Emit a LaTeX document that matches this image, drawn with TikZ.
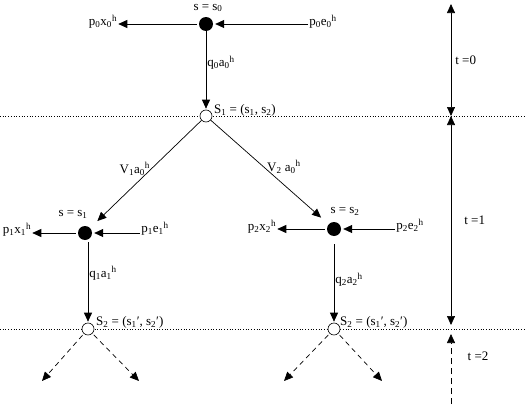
\documentclass[tikz,border=0pt]{standalone}
\usepackage{fontspec}
\setmainfont{Liberation Serif}
\usetikzlibrary{arrows.meta,positioning,calc}

\newcommand{\idx}[1]{\textsubscript{#1}}
\newcommand{\hsup}{\textsuperscript{h}}

\begin{document}
\begin{tikzpicture}[x=1pt,y=-1pt,font=\fontsize{13}{15}\selectfont, line join=round]

% ---------- styles ----------
\tikzset{
  dot/.style={circle, fill=black, inner sep=0pt, minimum size=14pt},
  state/.style={circle, draw, fill=white, inner sep=0pt, minimum size=12pt, line width=0.6pt},
  flow/.style={-{Triangle[length=9pt,width=8pt]}, line width=0.7pt},
  dflow/.style={flow, dashed, dash pattern=on 5pt off 4pt},
  span/.style={{Triangle[length=9pt,width=8pt]}-{Triangle[length=9pt,width=8pt]}, line width=0.7pt},
  level/.style={dotted, line width=0.7pt},
  lbl/.style={inner sep=1pt},
}

\useasboundingbox (0,0) rectangle (525,415);

% ---------- period boundaries ----------
\draw[level] (0,116) -- (525,116);
\draw[level] (0,329) -- (525,329);

% ---------- t = 0 ----------
\node[dot] (d0) at (206,24) {};
\node[lbl] (s0) at (208,8) {s = s\idx{0}};
\node[lbl] (px0) at (103,22) {p\idx{0}x\idx{0}\hsup};
\node[lbl] (pe0) at (323,22) {p\idx{0}e\idx{0}\hsup};
\node[state] (S1) at (206,116) {};
\node[lbl, anchor=west] (S1l) at (213,110) {S\idx{1} = (s\idx{1}, s\idx{2})};

\draw[flow, shorten <=2pt] (d0) -- (d0 -| px0.east);
\draw[flow, shorten >=2pt] (pe0.west |- d0) -- (d0);
\draw[flow, shorten >=1pt] (d0) -- node[lbl, pos=0.4, right] {q\idx{0}a\idx{0}\hsup} (S1);

% ---------- t = 1, branch 1 ----------
\node[dot] (d1) at (85,233) {};
\node[lbl] (s1) at (73,214) {s = s\idx{1}};
\node[lbl] (px1) at (17,230) {p\idx{1}x\idx{1}\hsup};
\node[lbl] (pe1) at (155,229) {p\idx{1}e\idx{1}\hsup};
\node[state] (S2a) at (88,329) {};
\node[lbl, anchor=west] (S2al) at (95,322) {S\idx{2} = (s\idx{1}′, s\idx{2}′)};

\draw[flow, shorten >=10pt] (S1) -- node[lbl, pos=0.45, left=0pt] {V\idx{1}a\idx{0}\hsup} (d1);
\draw[flow, shorten <=2pt] (d1) -- (d1 -| px1.east);
\draw[flow, shorten >=2pt] (pe1.west |- d1) -- (d1);
\draw[flow, shorten <=9pt, shorten >=1pt] (S2a |- d1) -- node[lbl, pos=0.45, right] {q\idx{1}a\idx{1}\hsup} (S2a);

% ---------- t = 1, branch 2 ----------
\node[dot] (d2) at (334,229) {};
\node[lbl] (s2) at (345,211) {s = s\idx{2}};
\node[lbl] (px2) at (262,227) {p\idx{2}x\idx{2}\hsup};
\node[lbl] (pe2) at (410,226) {p\idx{2}e\idx{2}\hsup};
\node[state] (S2b) at (334,329) {};
\node[lbl, anchor=west] (S2bl) at (339,322) {S\idx{2} = (s\idx{1}′, s\idx{2}′)};

\draw[flow, shorten >=10pt] (S1) -- node[lbl, pos=0.45, right=2pt] {V\idx{2} a\idx{0}\hsup} (d2);
\draw[flow, shorten <=2pt] (d2) -- (d2 -| px2.east);
\draw[flow, shorten >=2pt] (pe2.west |- d2) -- (d2);
\draw[flow, shorten <=8pt, shorten >=1pt] (d2) -- node[lbl, pos=0.5, right] {q\idx{2}a\idx{2}\hsup} (S2b);

% ---------- t = 2 (continuation) ----------
\coordinate (e1) at (42,381);
\coordinate (e2) at (139,381);
\coordinate (e3) at (284,381);
\coordinate (e4) at (382,381);
\draw[dflow, shorten <=2pt] (S2a) -- (e1);
\draw[dflow, shorten <=2pt] (S2a) -- (e2);
\draw[dflow, shorten <=2pt] (S2b) -- (e3);
\draw[dflow, shorten <=2pt] (S2b) -- (e4);

% ---------- time axis ----------
\coordinate (ta) at (451,4);
\coordinate (tb) at (451,116);
\coordinate (tc) at (451,325);
\coordinate (td) at (451,334);
\coordinate (te) at (451,404);
\draw[span] (ta) -- node[lbl, right=3pt] (t0) {t =0} (tb);
\draw[span] (tb) -- node[lbl, right=12pt] (t1) {t =1} (tc);
\draw[flow, dashed, dash pattern=on 6pt off 4pt] (te) -- (td);
\node[lbl] (t2) at (478,356) {t =2};

\end{tikzpicture}
\end{document}
